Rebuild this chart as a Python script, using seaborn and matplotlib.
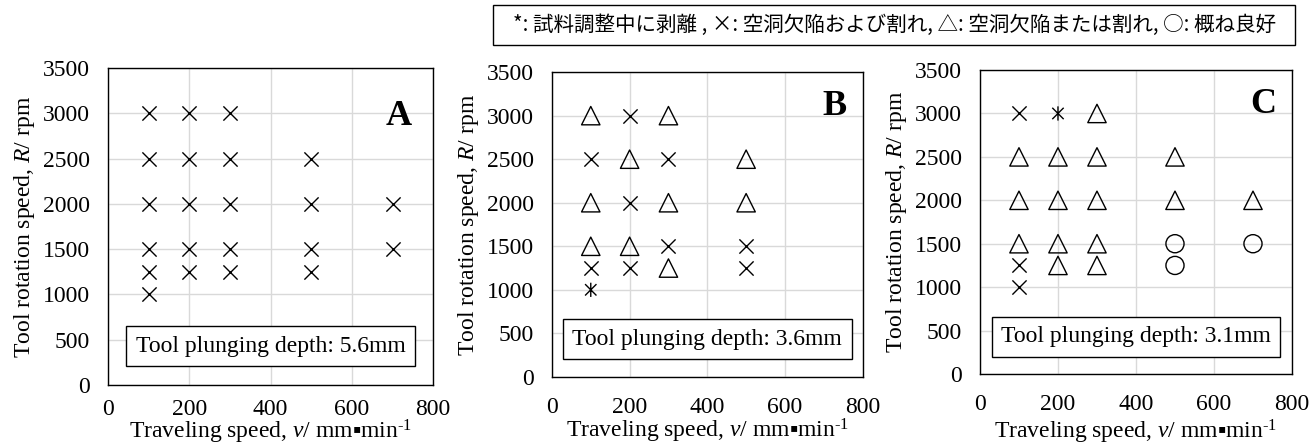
import matplotlib
matplotlib.use("Agg")
import matplotlib.pyplot as plt
import seaborn as sns
import pandas as pd
import numpy as np
from matplotlib.path import Path
from matplotlib.patches import Rectangle

# ---------------- data ----------------
panel_labels = ["A", "B", "C"]
depth_labels = ["Tool plunging depth: 5.6mm", "Tool plunging depth: 3.6mm", "Tool plunging depth: 3.1mm"]

# panel A (5.6 mm)
a_speed = [100, 100, 100, 100, 100, 100, 200, 200, 200, 200, 200, 300, 300, 300, 300, 300, 500, 500, 500, 500, 700, 700]
a_rpm   = [3000, 2500, 2000, 1500, 1250, 1000, 3000, 2500, 2000, 1500, 1250, 3000, 2500, 2000, 1500, 1250, 2500, 2000, 1500, 1250, 2000, 1500]
a_cls   = ["x"] * 22

# panel B (3.6 mm)
b_speed = [100, 100, 100, 100, 100, 100, 200, 200, 200, 200, 200, 300, 300, 300, 300, 300, 500, 500, 500, 500]
b_rpm   = [3000, 2500, 2000, 1500, 1250, 1000, 3000, 2500, 2000, 1500, 1250, 3000, 2500, 2000, 1500, 1250, 2500, 2000, 1500, 1250]
b_cls   = ["tri", "x", "tri", "tri", "x", "ast",
           "x", "tri", "x", "tri", "x",
           "tri", "x", "tri", "x", "tri",
           "tri", "tri", "x", "x"]

# panel C (3.1 mm)
c_speed = [100, 100, 100, 100, 100, 100, 200, 200, 200, 200, 200, 300, 300, 300, 300, 300, 500, 500, 500, 500, 700, 700]
c_rpm   = [3000, 2500, 2000, 1500, 1250, 1000, 3000, 2500, 2000, 1500, 1250, 3000, 2500, 2000, 1500, 1250, 2500, 2000, 1500, 1250, 2000, 1500]
c_cls   = ["x", "tri", "tri", "tri", "x", "x",
           "ast", "tri", "tri", "tri", "tri",
           "tri", "tri", "tri", "tri", "tri",
           "tri", "tri", "circ", "circ",
           "tri", "circ"]

x_ticks = [0, 200, 400, 600, 800]
y_ticks = [0, 500, 1000, 1500, 2000, 2500, 3000, 3500]

legend_text = "*: 試料調整中に剥離 , ×: 空洞欠陥および割れ, △: 空洞欠陥または割れ, ○: 概ね良好"

# ---------------- style ----------------
sns.set_theme(style="white")
plt.rcParams["font.family"] = ["Liberation Serif", "Noto Sans CJK JP", "DejaVu Sans"]
plt.rcParams["mathtext.fontset"] = "custom"
plt.rcParams["mathtext.rm"] = "Liberation Serif"
plt.rcParams["mathtext.it"] = "Liberation Serif:italic"

ast_marker = Path([(-1, -1), (1, 1), (-1, 1), (1, -1), (0, -1.25), (0, 1.25)],
                  [Path.MOVETO, Path.LINETO, Path.MOVETO, Path.LINETO, Path.MOVETO, Path.LINETO])

fig = plt.figure(figsize=(13.11, 4.45), dpi=100)
positions = [
    [0.0824, 0.1348, 0.248, 0.712],
    [0.421, 0.153, 0.237, 0.685],
    [0.7475, 0.1596, 0.238, 0.683],
]
letter_pos = [(0.935, 0.90), (0.949, 0.94), (0.949, 0.94)]
xpads = [10, 14.5, 14.5]
xlabel_y = [-0.104, -0.131, -0.1445]

data = [
    pd.DataFrame({"speed": a_speed, "rpm": a_rpm, "cls": a_cls}),
    pd.DataFrame({"speed": b_speed, "rpm": b_rpm, "cls": b_cls}),
    pd.DataFrame({"speed": c_speed, "rpm": c_rpm, "cls": c_cls}),
]

FS = 17
for i, df in enumerate(data):
    ax = fig.add_axes(positions[i])
    sub = df[df.cls == "x"]
    if len(sub):
        sns.scatterplot(data=sub, x="speed", y="rpm", marker="x", s=105, color="black",
                        linewidth=1.0, ax=ax, zorder=3, legend=False)
    sub = df[df.cls == "tri"]
    if len(sub):
        sns.scatterplot(data=sub, x="speed", y="rpm", marker="^", s=175, facecolor="none",
                        edgecolor="black", linewidth=1.0, ax=ax, zorder=3, legend=False)
    sub = df[df.cls == "circ"]
    if len(sub):
        sns.scatterplot(data=sub, x="speed", y="rpm", marker="o", s=170, facecolor="none",
                        edgecolor="black", linewidth=1.0, ax=ax, zorder=3, legend=False)
    sub = df[df.cls == "ast"]
    if len(sub):
        sns.scatterplot(data=sub, x="speed", y="rpm", marker=ast_marker, s=105, facecolor="none",
                        edgecolor="black", linewidth=1.0, ax=ax, zorder=3, legend=False)

    ax.set_xlim(0, 800)
    ax.set_ylim(0, 3500)
    ax.set_xticks(x_ticks)
    ax.set_yticks(y_ticks)
    ax.grid(True, color="#d9d9d9", linewidth=1.0)
    ax.set_axisbelow(True)
    for sp in ax.spines.values():
        sp.set_color("black")
        sp.set_linewidth(1.0)
    ax.tick_params(axis="both", length=0, labelsize=FS, colors="black")
    ax.tick_params(axis="y", pad=13)
    ax.tick_params(axis="x", pad=xpads[i])
    ax.set_xlabel("Traveling speed, $v$/ mm\u25aamin$^{\\text{-1}}$", fontsize=FS, color="black")
    ax.xaxis.set_label_coords(0.5, xlabel_y[i])
    ax.set_ylabel("Tool rotation speed, $R$/ rpm", fontsize=FS, labelpad=4, color="black")
    ax.text(letter_pos[i][0], letter_pos[i][1], panel_labels[i], transform=ax.transAxes, ha="right", va="top",
            fontsize=26, fontweight="bold", color="black")
    ax.text(0.5, 0.123, depth_labels[i], transform=ax.transAxes, ha="center", va="center",
            fontsize=FS, color="black",
            bbox=dict(boxstyle="square,pad=0.4", facecolor="white", edgecolor="black", linewidth=1.0))

fig.patches.append(Rectangle((0.376, 0.899), 0.612, 0.09, transform=fig.transFigure,
                             facecolor="white", edgecolor="black", linewidth=1.0))
fig.text(0.682, 0.944, legend_text, ha="center", va="center", fontsize=14.8,
         family=["Noto Sans CJK JP", "DejaVu Sans"], color="black")

fig.savefig("out.png", dpi=100)
